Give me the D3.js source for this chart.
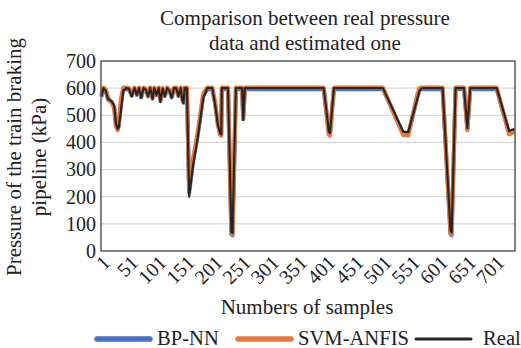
<!DOCTYPE html>
<html>
<head>
<meta charset="utf-8">
<script src="https://cdn.jsdelivr.net/npm/d3@7"></script>
<style>
  body { margin: 0; background: #fff; }
  text { font-family: "Liberation Serif", "Times New Roman", serif; fill: #222; }
</style>
</head>
<body>
<div id="chart"></div>
<script>
// sample index of each breakpoint
const samples = [1, 5, 9, 13, 20, 24, 27, 30, 32, 36, 40, 45, 50, 55, 60, 64, 68, 72, 76, 80,
  84, 88, 92, 95, 99, 103, 106, 110, 114, 118, 122, 126, 130, 134, 138, 142, 145, 147, 149, 153,
  157, 164, 171, 176, 182, 189, 198, 203, 208, 212, 214, 215, 226, 232, 234, 240, 251, 253, 256, 396,
  405, 407, 414, 501, 537, 546, 562, 566, 570, 607, 621, 623, 630, 645, 651, 656, 703, 725, 735];

const realValues = [570, 600, 590, 560, 550, 535, 470, 450, 455, 520, 590, 600, 598, 570, 600, 575, 600, 565, 600, 595,
  570, 600, 560, 600, 575, 600, 550, 598, 570, 600, 590, 565, 600, 600, 570, 600, 555, 545, 600, 600,
  200, 317, 402, 472, 564, 600, 600, 541, 464, 435, 430, 600, 600, 70, 66, 600, 600, 483, 600, 600,
  440, 435, 600, 600, 440, 438, 560, 590, 600, 600, 75, 68, 600, 600, 453, 600, 600, 442, 450];

const svmValues = [575, 602, 595, 565, 545, 525, 460, 445, 470, 560, 602, 602, 600, 575, 602, 578, 602, 570, 602, 598,
  574, 602, 566, 602, 578, 602, 558, 600, 575, 602, 594, 570, 602, 602, 575, 602, 560, 550, 602, 602,
  225, 340, 420, 490, 580, 602, 602, 548, 470, 428, 425, 602, 602, 62, 62, 602, 602, 490, 602, 602,
  428, 425, 602, 602, 428, 426, 575, 600, 602, 602, 65, 62, 602, 602, 445, 602, 602, 430, 440];

const bpValues = [568, 597, 588, 558, 548, 530, 465, 448, 460, 540, 597, 596, 595, 572, 597, 575, 596, 566, 597, 594,
  570, 596, 562, 597, 574, 596, 552, 595, 571, 597, 590, 566, 596, 596, 571, 597, 556, 546, 596, 596,
  215, 330, 410, 480, 570, 596, 596, 543, 466, 432, 428, 596, 596, 60, 58, 596, 596, 486, 596, 596,
  432, 430, 596, 596, 432, 430, 565, 594, 596, 596, 62, 58, 596, 596, 448, 596, 596, 434, 445];

const yTicks = [0, 100, 200, 300, 400, 500, 600, 700];
const xTicks = [1, 51, 101, 151, 201, 251, 301, 351, 401, 451, 501, 551, 601, 651, 701];
const seriesNames = ['BP-NN', 'SVM-ANFIS', 'Real'];
const colors = ['#4472c4', '#e8783a', '#262626'];

const width = 521, height = 348;
const plot = {left: 101, right: 515, top: 61, bottom: 251};
const serif = '"Liberation Serif", "Times New Roman", serif';

const svg = d3.select('#chart').append('svg')
  .attr('width', width)
  .attr('height', height);

const x = d3.scaleLinear().domain([0.5, 735.5]).range([plot.left, plot.right]);
const y = d3.scaleLinear().domain([0, 700]).range([plot.bottom, plot.top]);

// gridlines
svg.append('g').selectAll('line')
  .data(yTicks.filter(d => d > 0 && d < 700))
  .enter().append('line')
  .attr('x1', plot.left).attr('x2', plot.right)
  .attr('y1', d => y(d)).attr('y2', d => y(d))
  .attr('stroke', '#d9d9d9').attr('stroke-width', 1.2);

// y axis labels
const yAxis = d3.axisLeft(y).tickValues(yTicks).tickSize(0).tickPadding(5);
svg.append('g')
  .attr('transform', `translate(${plot.left},0)`)
  .call(yAxis)
  .attr('font-family', serif)
  .attr('font-size', 20)
  .call(g => g.select('.domain').remove())
  .selectAll('text')
  .attr('fill', '#222');

// x axis labels, rotated
svg.append('g').selectAll('text')
  .data(xTicks)
  .enter().append('text')
  .attr('transform', d => `translate(${x(d) + 5},${plot.bottom + 8}) rotate(-45)`)
  .attr('text-anchor', 'end')
  .attr('dy', '0.35em')
  .style('font-size', '20px')
  .text(d => d);

// lines
const series = [bpValues, svmValues, realValues];
const widths = [4, 4.2, 2.2];
const line = d3.line()
  .x((d, i) => x(samples[i]))
  .y(d => y(d));

svg.append('g').selectAll('path')
  .data(series)
  .enter().append('path')
  .attr('d', d => line(d))
  .attr('fill', 'none')
  .attr('stroke', (d, i) => colors[i])
  .attr('stroke-width', (d, i) => widths[i])
  .attr('stroke-linejoin', 'round');

// plot border
svg.append('rect')
  .attr('x', plot.left).attr('y', plot.top)
  .attr('width', plot.right - plot.left).attr('height', plot.bottom - plot.top)
  .attr('fill', 'none').attr('stroke', '#595959').attr('stroke-width', 1.5);

// title
const title = svg.append('text')
  .attr('text-anchor', 'middle')
  .style('font-size', '21px');
title.append('tspan').attr('x', 305).attr('y', 25).text('Comparison between real pressure');
title.append('tspan').attr('x', 305).attr('y', 50).text('data and estimated one');

// y axis title
const yTitle = svg.append('text')
  .attr('transform', 'translate(0,157) rotate(-90)')
  .attr('text-anchor', 'middle')
  .style('font-size', '21px');
yTitle.append('tspan').attr('x', 0).attr('y', 21).text('Pressure of the train braking');
yTitle.append('tspan').attr('x', 0).attr('y', 46).text('pipeline (kPa)');

// x axis title
svg.append('text')
  .attr('x', 307).attr('y', 314)
  .attr('text-anchor', 'middle')
  .style('font-size', '21px')
  .text('Numbers of samples');

// legend
const legendX = [97, 238, 416];
const legend = svg.append('g').selectAll('g')
  .data(seriesNames)
  .enter().append('g')
  .attr('transform', (d, i) => `translate(${legendX[i]},339)`);

legend.append('line')
  .attr('x1', 0).attr('x2', (d, i) => i === 2 ? 55 : 53)
  .attr('y1', 0).attr('y2', 0)
  .attr('stroke', (d, i) => colors[i])
  .attr('stroke-width', (d, i) => i === 2 ? 3 : 5.5)
  .attr('stroke-linecap', 'round');

legend.append('text')
  .attr('transform', (d, i) => `translate(${i === 2 ? 67 : 60},6) scale(1.03,1)`)
  .style('font-size', '20px')
  .text(d => d);
</script>
</body>
</html>
